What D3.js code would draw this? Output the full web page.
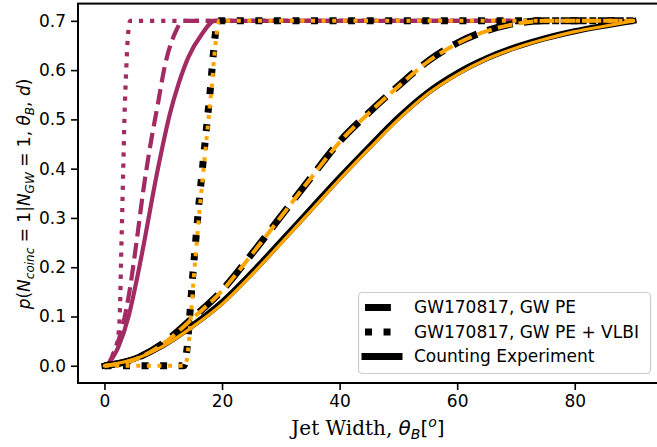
<!DOCTYPE html>
<html>
<head>
<meta charset="utf-8">
<script src="https://cdn.jsdelivr.net/npm/d3@7"></script>
<style>
html,body{margin:0;padding:0;background:#fff;}
svg{display:block;}
text{font-family:"DejaVu Sans",sans-serif;}
</style>
</head>
<body>
<svg id="chart" width="657" height="447"></svg>
<script>
// ---------------- data ----------------
const xTicks = [0, 20, 40, 60, 80];
const yTicks = [0.0, 0.1, 0.2, 0.3, 0.4, 0.5, 0.6, 0.7];
const legendLabels = ["GW170817, GW PE", "GW170817, GW PE + VLBI", "Counting Experiment"];

// GW PE (dashed)
const peX      = [0, 5, 10, 15, 20, 25, 30, 35, 40, 45, 50, 55, 60, 65, 70, 75, 80, 85, 90];
const peBlack  = [0, 0.013, 0.046, 0.097, 0.153, 0.226, 0.303, 0.380, 0.455, 0.514, 0.568, 0.618, 0.655, 0.680, 0.695, 0.700, 0.700, 0.700, 0.700];
const peOrange = [0, 0.012, 0.045, 0.096, 0.152, 0.225, 0.302, 0.379, 0.454, 0.513, 0.567, 0.617, 0.654, 0.679, 0.694, 0.700, 0.700, 0.700, 0.700];

// GW PE + VLBI (dotted)
const vlbiX      = [0, 5, 10, 13.5, 14, 14.5, 15, 15.5, 16, 16.5, 17, 17.5, 18, 18.5, 19, 19.3, 30, 50, 70, 90];
const vlbiBlack  = [0, 0, 0, 0, 0.03, 0.10, 0.18, 0.25, 0.32, 0.38, 0.44, 0.50, 0.56, 0.63, 0.685, 0.700, 0.700, 0.700, 0.700, 0.700];
const vlbiOrangeX = [0, 5, 10, 13.7, 14.2, 14.7, 15.2, 15.7, 16.2, 16.7, 17.2, 17.7, 18.2, 18.7, 19.2, 19.5, 30, 50, 70, 90];
const vlbiOrange = [0, 0, 0, 0, 0.03, 0.10, 0.18, 0.25, 0.32, 0.38, 0.44, 0.50, 0.56, 0.63, 0.685, 0.700, 0.700, 0.700, 0.700, 0.700];

// Counting experiment (solid)
const cntX      = [0, 5, 10, 15, 20, 25, 30, 35, 40, 45, 50, 55, 60, 65, 70, 75, 80, 85, 90];
const cntBlack  = [0, 0.014, 0.042, 0.082, 0.129, 0.188, 0.252, 0.317, 0.382, 0.444, 0.504, 0.555, 0.594, 0.624, 0.647, 0.665, 0.679, 0.690, 0.700];
const cntOrange = [0, 0.013, 0.040, 0.079, 0.125, 0.184, 0.248, 0.313, 0.378, 0.440, 0.500, 0.552, 0.591, 0.622, 0.645, 0.663, 0.678, 0.689, 0.700];

// maroon family
const mDotX  = [0.5, 1.5, 2.2, 2.6, 2.8, 3.0, 3.2, 3.4, 3.7, 4.0, 4.4, 20, 45, 70];
const mDotY  = [0, 0.025, 0.05, 0.10, 0.20, 0.30, 0.40, 0.50, 0.60, 0.67, 0.700, 0.700, 0.700, 0.700];
const mDashX = [0.5, 1.8, 3.2, 4.3, 5.5, 6.6, 7.7, 9.1, 10.3, 12.0, 13.4, 20, 45, 70];
const mDashY = [0, 0.032, 0.086, 0.154, 0.255, 0.355, 0.440, 0.532, 0.610, 0.675, 0.700, 0.700, 0.700, 0.700];
const mSolX  = [0.5, 2.4, 4.1, 5.5, 6.9, 8.2, 9.7, 11.1, 12.6, 14.3, 16.5, 18.8, 20, 45, 70];
const mSolY  = [0, 0.039, 0.100, 0.175, 0.260, 0.345, 0.435, 0.510, 0.572, 0.627, 0.672, 0.700, 0.700, 0.700, 0.700];

// ---------------- drawing ----------------
const svg = d3.select("#chart");
const x = d3.scaleLinear().domain([-4.5, 94.5]).range([78, 660]);
const y = d3.scaleLinear().domain([-0.035, 0.735]).range([383, 3.6]);

const maroon = "#a12b62", orange = "#ffa500";
const lineGen = d3.line().x(d => x(d[0])).y(d => y(d[1])).curve(d3.curveMonotoneX);
const zip = (xs, ys) => xs.map((v, i) => [v, ys[i]]);

function dashFor(style, lw) {
  if (style === "dashed") return `${3.7*lw},${1.6*lw}`;
  if (style === "dotted") return `${1*lw},${1.65*lw}`;
  return null;
}
function draw(xs, ys, color, lw, style) {
  svg.append("path")
    .attr("d", lineGen(zip(xs, ys)))
    .attr("fill", "none")
    .attr("stroke", color)
    .attr("stroke-width", lw)
    .attr("stroke-linejoin", "round")
    .attr("stroke-linecap", style === "solid" ? "square" : "butt")
    .attr("stroke-dasharray", dashFor(style, lw));
}

// maroon first
draw(mDotX, mDotY, maroon, 4.2, "dotted");
draw(mDashX, mDashY, maroon, 4.2, "dashed");
draw(mSolX, mSolY, maroon, 4.2, "solid");
// black
draw(peX, peBlack, "#000", 7, "dashed");
draw(vlbiX, vlbiBlack, "#000", 7, "dotted");
draw(cntX, cntBlack, "#000", 6, "solid");
// orange
draw(peX, peOrange, orange, 4, "dashed");
draw(vlbiOrangeX, vlbiOrange, orange, 4, "dotted");
draw(cntX, cntOrange, orange, 3.2, "solid");

// axes
const xAxis = d3.axisBottom(x).tickValues(xTicks).tickFormat(d3.format("d")).tickSize(7).tickPadding(5);
const yAxis = d3.axisLeft(y).tickValues(yTicks).tickFormat(d3.format(".1f")).tickSize(7).tickPadding(5);
const gx = svg.append("g").attr("transform", "translate(0,383)").call(xAxis);
const gy = svg.append("g").attr("transform", "translate(78,0)").call(yAxis);
[gx, gy].forEach(g => {
  g.select(".domain").remove();
  g.selectAll(".tick line").attr("stroke", "#000").attr("stroke-width", 1.6);
  g.selectAll(".tick text").attr("fill", "#000").style("font-family", "DejaVu Sans").style("font-size", "17px");
});

// spines
svg.append("rect").attr("x", 78).attr("y", 3.6).attr("width", 660 - 78).attr("height", 383 - 3.6)
  .attr("fill", "none").attr("stroke", "#000").attr("stroke-width", 2);

// x label
const xl = svg.append("text").attr("x", 368).attr("y", 435).attr("text-anchor", "middle")
  .style("font-size", "20px").attr("fill", "#000");
xl.append("tspan").style("font-family", "DejaVu Serif").text("Jet Width, ");
xl.append("tspan").style("font-style", "italic").text("θ");
xl.append("tspan").style("font-style", "italic").style("font-size", "14px").attr("dy", 4).text("B");
xl.append("tspan").attr("dy", -4).text("[");
xl.append("tspan").style("font-style", "italic").style("font-size", "14px").attr("dy", -8).text("o");
xl.append("tspan").attr("dy", 8).text("]");

// y label
const yl = svg.append("text").attr("transform", "translate(30,194) rotate(-90)").attr("text-anchor", "middle")
  .style("font-size", "17px").attr("fill", "#000");
const parts = [
  ["p", "i"], ["(", "n"], ["N", "i"], ["coinc", "s"], [" = 1|", "n"],
  ["N", "i"], ["GW", "s"], [" = 1, ", "n"], ["θ", "i"], ["B", "s"], [", ", "n"], ["d", "i"], [")", "n"]
];
let inSub = false;
parts.forEach(([t, k]) => {
  const ts = yl.append("tspan").text(t);
  if (k === "i" || k === "s") ts.style("font-style", "italic");
  if (k === "s") { ts.style("font-size", "12px"); if (!inSub) ts.attr("dy", 3.5); inSub = true; }
  else if (inSub) { ts.attr("dy", -3.5); inSub = false; }
});

// legend
const lg = svg.append("g");
lg.append("rect").attr("x", 358.5).attr("y", 292.5).attr("width", 292).attr("height", 81).attr("rx", 4)
  .attr("fill", "#fff").attr("fill-opacity", 0.8).attr("stroke", "#cccccc").attr("stroke-width", 1.2);
const styles = ["dashed", "dotted", "solid"];
const rowY = [307.5, 332, 356.5];
legendLabels.forEach((lab, i) => {
  lg.append("line").attr("x1", 365).attr("x2", 399).attr("y1", rowY[i]).attr("y2", rowY[i])
    .attr("stroke", "#000").attr("stroke-width", 7)
    .attr("stroke-linecap", styles[i] === "solid" ? "square" : "butt")
    .attr("stroke-dasharray", dashFor(styles[i], 7));
  lg.append("text").attr("x", 414).attr("y", rowY[i]).attr("dy", "0.35em")
    .style("font-size", "17px").attr("fill", "#000").text(lab);
});
</script>
</body>
</html>
